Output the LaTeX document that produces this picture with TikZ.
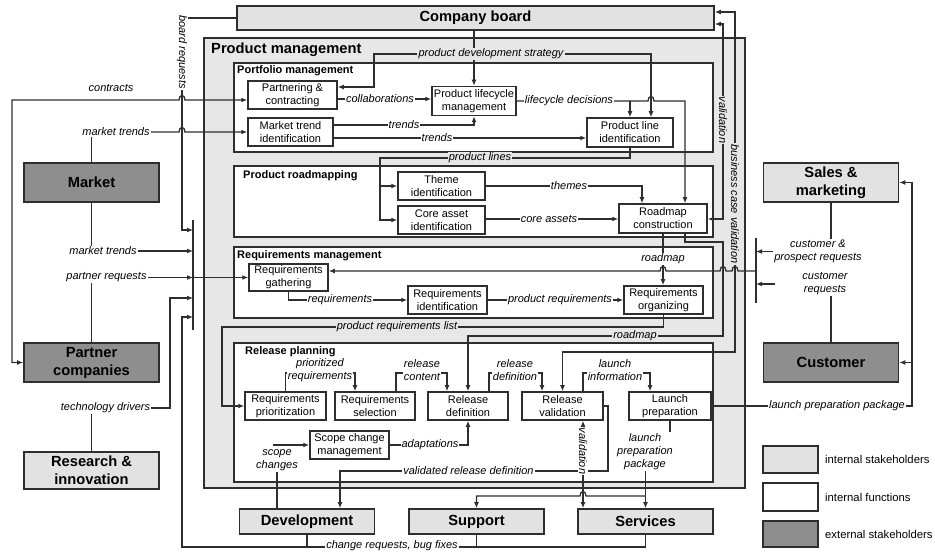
\documentclass[tikz,border=0pt]{standalone}
\usepackage{fontspec}
\setmainfont{Liberation Sans}
\usepackage{tikz}
\usetikzlibrary{arrows.meta, backgrounds}
\pgfdeclarelayer{wires}
\pgfsetlayers{background,wires,main}

\definecolor{inkgray}{HTML}{2E2E2E}
\definecolor{stklight}{HTML}{E2E2E2}
\definecolor{stkdark}{HTML}{8E8E8E}
\definecolor{pmgray}{HTML}{E7E7E7}

\begin{document}
\begin{tikzpicture}[
        x=1pt, y=-1pt,
        stake/.style={
            draw=inkgray,
            line width=1.6pt,
            fill=stklight,
            font=\bfseries\fontsize{14.7}{18}\selectfont,
            align=center,
            inner sep=0pt,
            minimum width=135pt,
            minimum height=39pt
        },
        extstake/.style={stake, fill=stkdark},
        unitstake/.style={stake, minimum height=25pt},
        func/.style={
            draw=inkgray,
            line width=1.5pt,
            fill=white,
            font=\fontsize{11}{13}\selectfont,
            align=center,
            inner sep=0pt,
            minimum width=80pt,
            minimum height=28pt
        },
        area/.style={draw=inkgray, line width=1.5pt, fill=white, inner sep=0pt},
        areaTitle/.style={font=\bfseries\fontsize{11}{13}\selectfont, anchor=west, inner sep=0pt},
        lbl/.style={
            font=\itshape\fontsize{11}{13}\selectfont,
            fill=white,
            align=center,
            inner sep=1pt
        },
        glbl/.style={lbl, fill=pmgray},
        vlbl/.style={lbl, rotate=-90},
        conn/.style={line width=1.3pt, draw=inkgray},
        arr/.style={conn, -{Latex[length=6pt, width=5pt]}},
        dblarr/.style={conn, {Latex[length=6pt, width=5pt]}-{Latex[length=6pt, width=5pt]}},
        legendTxt/.style={font=\fontsize{11.3}{13}\selectfont, anchor=west, inner sep=0pt}
    ]
        \useasboundingbox (0,0) rectangle (935,553);

        % ---- Stakeholders ----
        \node[stake, minimum width=477pt, minimum height=24pt] (board) at (475.5,18) {Company board};
        \node[extstake] (market) at (91.5,182.5) {Market};
        \node[extstake] (partner) at (91.5,362.5) {Partner\\companies};
        \node[stake, minimum height=37pt] (research) at (91.5,470.5) {Research \&\\innovation};
        \node[stake] (sales) at (831,182.5) {Sales \&\\marketing};
        \node[extstake] (customer) at (831,362.5) {Customer};
        \node[unitstake] (dev) at (307,521.5) {Development};
        \node[unitstake] (support) at (476.5,521.5) {Support};
        \node[unitstake] (services) at (645.5,521.5) {Services};

        % ---- Areas ----
        \begin{pgfonlayer}{background}
            \node[area, fill=pmgray, minimum width=541pt, minimum height=450pt] (pm) at (474.5,263) {};
            \node[area, minimum width=479pt, minimum height=89pt] (portfolio) at (473.5,107.5) {};
            \node[area, minimum width=479pt, minimum height=71pt] (roadmapping) at (473.5,201.5) {};
            \node[area, minimum width=479pt, minimum height=71pt] (reqmgmt) at (473.5,282.5) {};
            \node[area, minimum width=479pt, minimum height=139pt] (release) at (473.5,412.5) {};
        \end{pgfonlayer}
        \node[areaTitle, font=\bfseries\fontsize{14.7}{16}\selectfont] (pmtitle) at (211,50) {Product management};
        \node[areaTitle] (portfoliotitle) at (237,71) {Portfolio management};
        \node[areaTitle] (roadmappingtitle) at (243,176) {Product roadmapping};
        \node[areaTitle] (reqmgmttitle) at (237,256) {Requirements management};
        \node[areaTitle] (releasetitle) at (245,352) {Release planning};

        % ---- Functions ----
        \node[func, minimum width=89pt] (partnering) at (292.5,95) {Partnering \&\\contracting};
        \node[func, minimum width=85pt] (mtrend) at (290.5,132) {Market trend\\identification};
        \node[func, minimum width=84pt, minimum height=29pt] (plm) at (474,101) {Product lifecycle\\management};
        \node[func, minimum width=86pt, minimum height=29pt] (pli) at (630,132.5) {Product line\\identification};
        \node[func, minimum width=87pt] (theme) at (441.5,186) {Theme\\identification};
        \node[func, minimum width=87pt] (coreasset) at (441.5,220) {Core asset\\identification};
        \node[func, minimum width=88pt, minimum height=29pt] (roadmap) at (663,218.5) {Roadmap\\construction};
        \node[func, minimum width=79pt, minimum height=27pt] (reqgath) at (288.5,277.5) {Requirements\\gathering};
        \node[func, minimum width=79pt] (reqident) at (447.5,300) {Requirements\\identification};
        \node[func, minimum width=79pt] (reqorg) at (663.5,300) {Requirements\\organizing};
        \node[func, minimum width=81pt] (reqprio) at (285.5,406) {Requirements\\prioritization};
        \node[func] (reqsel) at (375,406) {Requirements\\selection};
        \node[func] (reldef) at (468,406) {Release\\definition};
        \node[func, minimum width=81pt] (relval) at (562.5,406) {Release\\validation};
        \node[func, minimum width=82pt] (launch) at (670,406) {Launch\\preparation};
        \node[func, minimum width=79pt] (scope) at (349.5,445) {Scope change\\management};

        % ---- Labels ----
        \node[vlbl] (boardreq) at (182,52) {board requests};
        \node[lbl] (contractslbl) at (111,88) {contracts};
        \node[lbl] (mtlblA) at (116,132) {market trends};
        \node[lbl] (mtlblB) at (103,251) {market trends};
        \node[lbl] (preqlbl) at (106.5,277.5) {partner requests};
        \node[lbl] (techlbl) at (105.5,408) {technology drivers};
        \node[lbl] (crlbl) at (392,545.5) {change requests, bug fixes};
        \node[glbl] (stratlbl) at (491,54) {product development strategy};
        \node[lbl] (collablbl) at (380,99) {collaborations};
        \node[lbl] (trendslblA) at (404,125) {trends};
        \node[lbl] (trendslblB) at (437,138) {trends};
        \node[lbl] (lifelbl) at (569,101) {lifecycle decisions};
        \node[glbl] (plineslbl) at (480,158) {product lines};
        \node[lbl] (themeslbl) at (569,186) {themes};
        \node[lbl] (corelbl) at (549,219) {core assets};
        \node[vlbl, fill=pmgray] (validlbl) at (723,120) {validation};
        \node[vlbl, fill=pmgray] (bcvlbl) at (735,204) {business case validation};
        \node[lbl] (rmlblA) at (663,259) {roadmap};
        \node[glbl] (rmlblB) at (635,336) {roadmap};
        \node[lbl] (reqlbl) at (340,300) {requirements};
        \node[lbl] (preqsLbl) at (560,300) {product requirements};
        \node[glbl] (prlistlbl) at (397,327) {product requirements list};
        \node[lbl] (cplbl) at (818,251.5) {customer \&\\prospect requests};
        \node[lbl] (custreqlbl) at (825,284) {customer\\requests};
        \node[lbl] (lpplblR) at (837,406) {launch preparation package};
        \node[lbl] (priolbl) at (320,370.5) {prioritized\\requirements};
        \node[lbl] (contentlbl) at (422,370.5) {release\\content};
        \node[lbl] (rdeflbl) at (515,370.5) {release\\definition};
        \node[lbl] (linfolbl) at (615,370.5) {launch\\information};
        \node[lbl] (adaptlbl) at (430,445) {adaptations};
        \node[lbl, fill=none] (scopelbl) at (277,460) {scope\\changes};
        \node[lbl] (vrdlbl) at (468.5,471) {validated release definition};
        \node[vlbl] (valbotlbl) at (583,451) {validation};
        \node[lbl] (lpplblB) at (645,451.5) {launch\\preparation\\package};

        % ---- Collector bars ----
        \coordinate (lbartop) at (193,220);
        \coordinate (lbarbot) at (193,330);
        \coordinate (rbartop) at (756,238);
        \coordinate (rbarbot) at (756,303);
        \coordinate (custreqin) at (775,284);
        \coordinate (scopein) at (273,445);

        % ---- Connectors ----
        \begin{pgfonlayer}{wires}
            \draw[conn] (lbartop) -- (lbarbot);
            \draw[conn] (rbartop) -- (rbarbot);

            % left side
            \draw[arr] (board.west) -| (182,230) -- (lbartop |- 0,230);
            \draw[dblarr] (partner.west) -- (partner.west -| 12,0) -- (12,100) -- (179,100)
                .. controls (179,94) and (185,94) .. (185,100) -- (partnering.west |- 0,100);
            \draw[arr] (mtlblA.east) -- (179,132) .. controls (179,126) and (185,126) .. (185,132) -- (mtrend.west);
            \draw[conn] (market.north) -- (market.north |- mtlblA.south);
            \draw[arr] (mtlblB.east) -- (mtlblB.east -| lbartop);
            \draw[conn] (market.south) -- (market.south |- mtlblB.north);
            \draw[arr] (preqlbl.east) -- (preqlbl.east -| lbartop);
            \draw[arr] (preqlbl.east -| lbartop) -- (reqgath.west);
            \draw[conn] (partner.north) -- (partner.north |- preqlbl.south);
            \draw[arr] (techlbl.east) -- (170,408) |- (lbartop |- 0,298);
            \draw[conn] (research.north) -- (research.north |- techlbl.south);
            \draw[arr] (services.south) |- (182,547) -- (182,317) -- (lbartop |- 0,317);
            \draw[conn] (dev.south) -- (dev.south |- 0,547);
            \draw[conn] (support.south) -- (support.south |- 0,547);

            % portfolio management
            \draw[arr] (plm.north |- board.south) -- (plm.north);
            \draw[arr] (stratlbl.west) -| (374,87) -- (partnering.east |- 0,87);
            \draw[arr] (stratlbl.east) -| (pli.north -| 651,0);
            \draw[arr] (partnering.east |- 0,99) -- (plm.west |- 0,99);
            \draw[arr] (mtrend.east |- 0,125) -| (plm.south);
            \draw[arr] (mtrend.east |- 0,138) -- (pli.west |- 0,138);
            \draw[arr] (plm.east) -- (648,101) .. controls (648,95) and (654,95) .. (654,101)
                -| (roadmap.north -| 685,0);
            \draw[arr] (pli.north |- 0,101) -- (pli.north);

            % product roadmapping
            \draw[arr] (pli.south) |- (380,158) |- (coreasset.west);
            \draw[arr] (theme.west -| 380,0) -- (theme.west);
            \draw[arr] (theme.east) -| (roadmap.north -| 642,0);
            \draw[arr] (coreasset.east |- 0,219) -- (roadmap.west |- 0,219);
            \draw[dblarr] (board.east |- 0,24) -| (723,219) -- (roadmap.east |- 0,219);
            \draw[dblarr] (board.east |- 0,12) -| (735,352) -| (relval.north);

            % requirements management
            \draw[arr] (roadmap.south) -- (roadmap.south |- reqorg.north);
            \draw[arr] (roadmap.south -| 685,0) |- (723,242) -- (723,336) -| (reldef.north);
            \draw[arr] (reqgath.south) |- (reqident.west);
            \draw[arr] (reqident.east) -- (reqorg.west);
            \draw[arr] (rbartop |- 0,271) -- (738,271) .. controls (738,265) and (732,265) .. (732,271)
                -- (726,271) .. controls (726,265) and (720,265) .. (720,271)
                -- (666,271) .. controls (666,265) and (660,265) .. (660,271)
                -- (reqgath.east |- 0,271);
            \draw[arr] (reqorg.south) |- (222,327) |- (reqprio.west);

            % customer side
            \draw[arr] (cplbl.west) -- (cplbl.west -| rbartop);
            \draw[conn] (sales.south) -- (sales.south |- cplbl.north);
            \draw[arr] (custreqin) -- (custreqin -| rbartop);
            \draw[conn] (customer.north) -- (customer.north |- custreqlbl.south);
            \draw[conn] (launch.east) -- (lpplblR.west);
            \draw[arr] (lpplblR.east) -- (lpplblR.east -| 912,0) |- (sales.east);
            \draw[arr] (customer.east -| 912,0) -- (customer.east);

            % release planning
            \draw[arr] (reqprio.north) |- (355,373) -- (reqsel.north -| 355,0);
            \draw[arr] (reqsel.north -| 396,0) |- (447,373) -- (reldef.north -| 447,0);
            \draw[arr] (reldef.north -| 489,0) |- (542,373) -- (relval.north -| 542,0);
            \draw[arr] (relval.north -| 583,0) |- (650,373) -- (launch.north -| 650,0);
            \draw[arr] (scope.east) -| (reldef.south);
            \draw[arr] (scopein) -- (scope.west);
            \draw[conn] (scopelbl.south) -- (scopelbl.south |- dev.north);
            \draw[arr] (relval.east) -| (608,471) -| (dev.north -| 340,0);
            \draw[dblarr] (relval.south -| 583,0) -- (services.north -| 583,0);
            \draw[conn] (launch.south) -- (launch.south |- lpplblB.north);
            \draw[arr] (lpplblB.south -| services.north) -- (services.north);
            \draw[arr] (services.north |- 0,496) -- (586,496) .. controls (586,490) and (580,490) .. (580,496)
                -| (support.north);
        \end{pgfonlayer}

        % ---- Legend ----
        \node[stake, minimum width=55pt, minimum height=27pt] (legA) at (790.5,459.5) {};
        \node[legendTxt] (legAtxt) at (825,459.5) {internal stakeholders};
        \node[func, minimum width=55pt, minimum height=28pt] (legB) at (790.5,497) {};
        \node[legendTxt] (legBtxt) at (825,497) {internal functions};
        \node[extstake, minimum width=55pt, minimum height=26pt] (legC) at (790.5,534) {};
        \node[legendTxt] (legCtxt) at (825,534) {external stakeholders};

    \end{tikzpicture}
\end{document}
